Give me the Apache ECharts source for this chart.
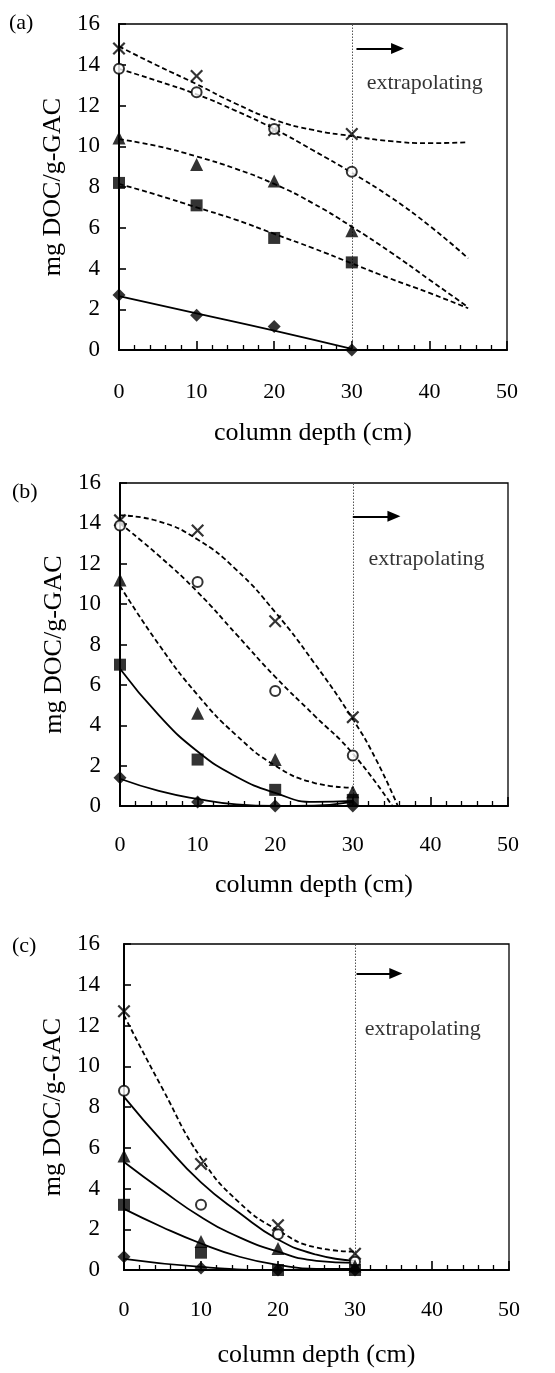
<!DOCTYPE html>
<html>
<head>
<meta charset="utf-8">
<script src="https://cdn.jsdelivr.net/npm/echarts@6/dist/echarts.min.js"></script>
<style>
html,body{margin:0;padding:0;background:#fff;}
#chart{width:555px;height:1373px;}
</style>
</head>
<body>
<div id="chart"></div>
<script>
// ---------- data ----------
const xTicks = [0, 10, 20, 30, 40, 50];
const yTicks = [0, 2, 4, 6, 8, 10, 12, 14, 16];
const depths = [0, 10, 20, 30];

// panel (a) measured points
const a_cross    = [14.8, 13.45, 10.8, 10.6];
const a_circle   = [13.8, 12.65, 10.85, 8.75];
const a_triangle = [10.4, 9.1, 8.3, 5.85];
const a_square   = [8.2, 7.1, 5.5, 4.3];
const a_diamond  = [2.7, 1.7, 1.15, 0.0];
// panel (a) fitted curves [depth, value]
const a_fit_cross    = [[0,14.9],[5,13.95],[10,13.05],[15,12.1],[20,11.3],[25,10.8],[30,10.5],[35,10.25],[40,10.15],[45,10.2]];
const a_fit_circle   = [[0,13.8],[5,13.2],[10,12.55],[15,11.75],[20,10.85],[25,9.8],[30,8.7],[35,7.5],[40,6.1],[45,4.5]];
const a_fit_triangle = [[0,10.35],[5,10.0],[10,9.5],[15,8.9],[20,8.15],[25,7.2],[30,6.05],[35,4.8],[40,3.45],[45,2.1]];
const a_fit_square   = [[0,8.15],[5,7.6],[10,7.0],[15,6.4],[20,5.7],[25,5.0],[30,4.25],[35,3.5],[40,2.8],[45,2.05]];
const a_fit_diamond  = [[0,2.65],[10,1.8],[20,0.95],[30,0.05]];

// panel (b) measured points
const b_cross    = [14.15, 13.65, 9.15, 4.4];
const b_circle   = [13.9, 11.1, 5.7, 2.5];
const b_triangle = [11.2, 4.6, 2.3, 0.7];
const b_square   = [7.0, 2.3, 0.8, 0.3];
const b_diamond  = [1.4, 0.2, 0.0, 0.0];
// panel (b) fitted curves
const b_fit_cross    = [[0,14.4],[5,14.1],[10,13.2],[15,11.7],[20,9.6],[25,7.1],[30,4.3],[33,2.3],[35.8,0]];
const b_fit_circle   = [[0,14.0],[5,12.4],[10,10.6],[15,8.5],[20,6.4],[25,4.5],[30,2.6],[35.1,0]];
const b_fit_triangle = [[0,10.9],[5,8.0],[10,5.5],[15,3.5],[20,2.0],[25,1.15],[30,0.9]];
const b_fit_square   = [[0,6.8],[5,4.5],[10,2.7],[15,1.45],[20,0.65],[25,0.2],[30,0.25]];
const b_fit_diamond  = [[0,1.35],[5,0.75],[10,0.35],[15,0.08],[20,0.0],[25,0.02],[30,0.2]];

// panel (c) measured points
const c_cross    = [12.7, 5.2, 2.2, 0.8];
const c_circle   = [8.8, 3.2, 1.75, 0.4];
const c_triangle = [5.6, 1.4, 1.05, 0.2];
const c_square   = [3.2, 0.85, 0.0, 0.0];
const c_diamond  = [0.65, 0.1, 0.0, 0.0];
// panel (c) fitted curves
const c_fit_cross    = [[0,12.5],[5,8.9],[10,5.5],[15,3.3],[20,1.95],[25,1.1],[30,0.9]];
const c_fit_circle   = [[0,8.5],[5,6.3],[10,4.3],[15,2.8],[20,1.5],[25,0.75],[30,0.45]];
const c_fit_triangle = [[0,5.3],[5,3.9],[10,2.6],[15,1.6],[20,0.9],[25,0.45],[30,0.35]];
const c_fit_square   = [[0,3.0],[5,2.1],[10,1.3],[15,0.65],[20,0.25],[25,0.05],[30,0.05]];
const c_fit_diamond  = [[0,0.55],[10,0.15],[20,0.0],[30,0.05]];

// annotations
const panelLabels = ['(a)', '(b)', '(c)'];
const boundaryDepth = 30;
const arrowA = [[30.6,14.8],[35.9,14.8]];
const arrowB = [[30.0,14.35],[35.3,14.35]];
const arrowC = [[30.2,14.55],[35.3,14.55]];
const textA = [39.4, 13.1];
const textB = [39.5, 12.2];
const textC = [38.8, 11.8];
const extrapText = 'extrapolating';
const xTitle = 'column depth (cm)';
const yTitle = 'mg DOC/g-GAC';

// ---------- chart ----------
const FONT = 'Liberation Serif';
const crossPath = 'path://M0,1.2L1.2,0L5,3.8L8.8,0L10,1.2L6.2,5L10,8.8L8.8,10L5,6.2L1.2,10L0,8.8L3.8,5Z';
const DASH = [5, 3];
const LW = 1.8;

const grids = [
  {left:119, top:24,  width:388, height:326},
  {left:120, top:483, width:388, height:323},
  {left:124, top:944, width:385, height:326}
];
const xLabelMargin = [31, 28, 29];
const xNameGap = [70, 66, 72];

function pts(arr){ return depths.map((d,i)=>[d, arr[i]]); }

const markers = {
  cross:    {symbol: crossPath, size: 13},
  circle:   {symbol: 'emptyCircle', size: 10},
  triangle: {symbol: 'triangle', size: 13},
  square:   {symbol: 'rect', size: 12},
  diamond:  {symbol: 'diamond', size: 13}
};

const series = [];
function addScatter(gi, kind, arr){
  const m = markers[kind];
  series.push({
    type:'scatter', xAxisIndex:gi, yAxisIndex:gi, data:pts(arr),
    symbol:m.symbol, symbolSize:m.size, z:5, silent:true,
    itemStyle:{color:'#000', borderColor:'#000', borderWidth: kind==='circle'?1.8:0}
  });
}
function addCurve(gi, data, dashed){
  series.push({
    type:'line', xAxisIndex:gi, yAxisIndex:gi, data:data, smooth:0.5,
    symbol:'none', silent:true, z:3, clip:true,
    lineStyle:{color:'#000', width:LW, type: dashed ? DASH : 'solid'}
  });
}
function addAnnot(gi, arrow, textPos){
  series.push({
    type:'line', xAxisIndex:gi, yAxisIndex:gi, data:[], silent:true,
    markLine:{
      silent:true, animation:false,
      symbol:['none','none'],
      label:{show:false},
      lineStyle:{color:'#555', width:1, type:[1.5,1.5]},
      data:[{xAxis: boundaryDepth}]
    }
  });
  series.push({
    type:'line', xAxisIndex:gi, yAxisIndex:gi, data:[], silent:true,
    markLine:{
      silent:true, animation:false,
      symbol:['none','triangle'], symbolSize:[11,13],
      label:{show:false},
      lineStyle:{color:'#000', width:1.8, type:'solid'},
      data:[[{coord:arrow[0]},{coord:arrow[1]}]]
    }
  });
  series.push({
    type:'scatter', xAxisIndex:gi, yAxisIndex:gi, data:[textPos], silent:true,
    symbolSize:1, itemStyle:{color:'rgba(0,0,0,0)'},
    label:{show:true, position:'inside', formatter: extrapText,
      fontFamily:FONT, fontSize:22, color:'#000'}
  });
}

// panel a
addCurve(0, a_fit_cross, true);
addCurve(0, a_fit_circle, true);
addCurve(0, a_fit_triangle, true);
addCurve(0, a_fit_square, true);
addCurve(0, a_fit_diamond, false);
addScatter(0,'cross',a_cross); addScatter(0,'circle',a_circle); addScatter(0,'triangle',a_triangle);
addScatter(0,'square',a_square); addScatter(0,'diamond',a_diamond);
addAnnot(0, arrowA, textA);
// panel b
addCurve(1, b_fit_cross, true);
addCurve(1, b_fit_circle, true);
addCurve(1, b_fit_triangle, true);
addCurve(1, b_fit_square, false);
addCurve(1, b_fit_diamond, false);
addScatter(1,'cross',b_cross); addScatter(1,'circle',b_circle); addScatter(1,'triangle',b_triangle);
addScatter(1,'square',b_square); addScatter(1,'diamond',b_diamond);
addAnnot(1, arrowB, textB);
// panel c
addCurve(2, c_fit_cross, true);
addCurve(2, c_fit_circle, false);
addCurve(2, c_fit_triangle, false);
addCurve(2, c_fit_square, false);
addCurve(2, c_fit_diamond, false);
addScatter(2,'cross',c_cross); addScatter(2,'circle',c_circle); addScatter(2,'triangle',c_triangle);
addScatter(2,'square',c_square); addScatter(2,'diamond',c_diamond);
addAnnot(2, arrowC, textC);

const xAxes = grids.map((g,i)=>({
  type:'value', gridIndex:i, min:xTicks[0], max:xTicks[xTicks.length-1], interval:10,
  axisLine:{show:true, onZero:false, lineStyle:{color:'#000', width:2}},
  axisTick:{show:true, inside:true, length:9, lineStyle:{color:'#000', width:1.6}},
  minorTick:{show:true, splitNumber:5, length:5, lineStyle:{color:'#000', width:1.3}},
  splitLine:{show:false},
  axisLabel:{color:'#000', fontFamily:FONT, fontSize:22, margin:xLabelMargin[i],
    showMinLabel:true, showMaxLabel:true},
  name:xTitle, nameLocation:'middle', nameGap:xNameGap[i],
  nameTextStyle:{color:'#000', fontFamily:FONT, fontSize:26}
}));
const yAxes = grids.map((g,i)=>({
  type:'value', gridIndex:i, min:yTicks[0], max:yTicks[yTicks.length-1], interval:2,
  axisLine:{show:true, onZero:false, lineStyle:{color:'#000', width:2}},
  axisTick:{show:true, inside:true, length:7, lineStyle:{color:'#000', width:1.6}},
  splitLine:{show:false},
  axisLabel:{color:'#000', fontFamily:FONT, fontSize:23, margin: i===2 ? 24 : 19},
  name:yTitle, nameLocation:'middle', nameGap:52,
  nameTextStyle:{color:'#000', fontFamily:FONT, fontSize:26}
}));

const titles = [
  {text:panelLabels[0], left:9,  top:12},
  {text:panelLabels[1], left:12, top:481},
  {text:panelLabels[2], left:12, top:935}
].map(t=>Object.assign(t,{padding:0, textStyle:{color:'#000', fontFamily:FONT, fontSize:22, fontWeight:'normal'}}));

const chart = echarts.init(document.getElementById('chart'), null, {renderer:'canvas'});
chart.setOption({
  animation:false,
  backgroundColor:'#fff',
  title:titles,
  grid:grids.map(g=>Object.assign({show:true, borderColor:'#000', borderWidth:1.3, backgroundColor:'transparent'}, g)),
  xAxis:xAxes,
  yAxis:yAxes,
  series:series
});
</script>
</body>
</html>
